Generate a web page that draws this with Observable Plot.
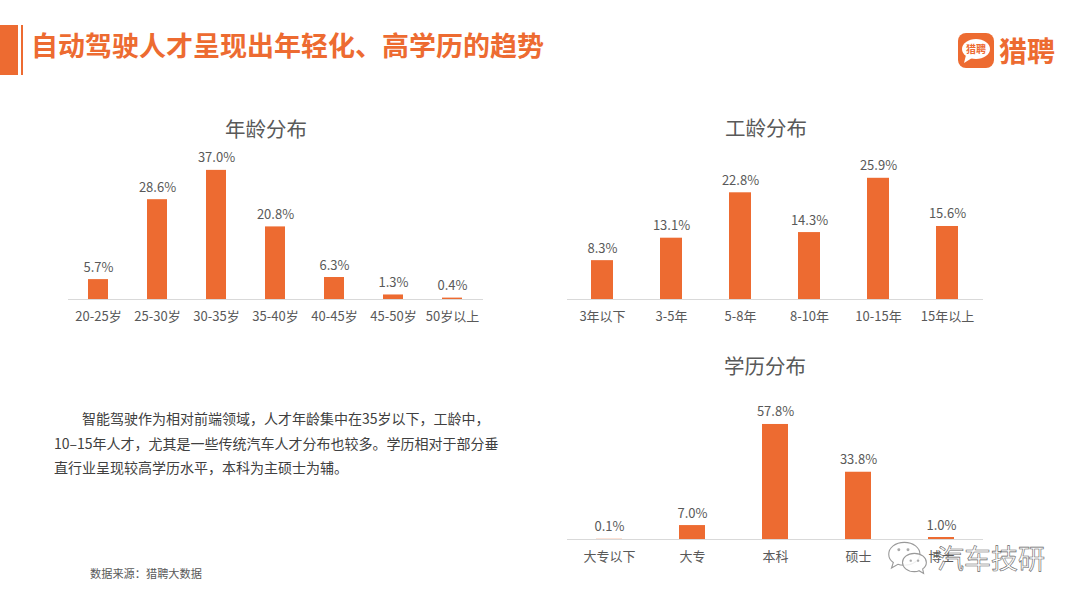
<!DOCTYPE html>
<html>
<head>
<meta charset="utf-8">
<script src="https://cdn.jsdelivr.net/npm/d3@7"></script>
<script src="https://cdn.jsdelivr.net/npm/@observablehq/plot@0.6"></script>
<style>
  html, body { margin: 0; padding: 0; background: #fff; }
  #page { position: relative; width: 1080px; height: 608px; overflow: hidden; background: #fff;
          font-family: "Noto Sans CJK SC", "Noto Sans", sans-serif; }
  .abs { position: absolute; }
  .ctitle { position: absolute; font-size: 20.5px; color: #595959; line-height: 1; transform: translate(-50%, -50%); white-space: nowrap; }
</style>
</head>
<body>
<div id="page">
  <div class="abs" style="left:0;top:25px;width:18px;height:50px;background:#ED6B31"></div>
  <div class="abs" style="left:21px;top:25px;width:2px;height:50px;background:#ED6B31"></div>
  <div class="abs" style="left:31px;top:31px;font-size:27px;line-height:27px;font-weight:600;color:#ED6B31;white-space:nowrap">自动驾驶人才呈现出年轻化、高学历的趋势</div>

  <svg class="abs" style="left:958px;top:33px" width="36" height="35" viewBox="0 0 36 35">
    <rect x="0" y="0" width="36" height="35" rx="8" fill="#ED6B31"/>
    <ellipse cx="18" cy="16" rx="14" ry="10" fill="#fff"/>
    <path d="M8 22 L6 30 L14 25 Z" fill="#fff"/>
    <text x="18" y="19.5" text-anchor="middle" font-size="10" font-weight="bold" fill="#ED6B31" font-family="Noto Sans CJK SC">猎聘</text>
  </svg>
  <div class="abs" style="left:999px;top:36px;font-size:28px;line-height:28px;font-weight:bold;color:#ED6B31;white-space:nowrap">猎聘</div>

  <div class="ctitle" style="left:266px;top:128px">年龄分布</div>
  <div class="ctitle" style="left:766px;top:127px">工龄分布</div>
  <div class="ctitle" style="left:765px;top:365px">学历分布</div>

  <div id="age" class="abs" style="left:40px;top:140px"></div>
  <div id="work" class="abs" style="left:540px;top:140px"></div>
  <div id="edu" class="abs" style="left:540px;top:380px"></div>

  <div class="abs" style="left:54px;top:406px;width:460px;font-size:14px;line-height:24.5px;color:#404040;white-space:nowrap">
    <div style="text-indent:28px">智能驾驶作为相对前端领域，人才年龄集中在35岁以下，工龄中，</div>
    <div>10–15年人才，尤其是一些传统汽车人才分布也较多。学历相对于部分垂</div>
    <div>直行业呈现较高学历水平，本科为主硕士为辅。</div>
  </div>
  <div class="abs" style="left:90px;top:566px;font-size:11.2px;line-height:14px;color:#595959;white-space:nowrap">数据来源：猎聘大数据</div>
</div>
<script>
const ageCats = ["20-25岁", "25-30岁", "30-35岁", "35-40岁", "40-45岁", "45-50岁", "50岁以上"];
const ageVals = [5.7, 28.6, 37.0, 20.8, 6.3, 1.3, 0.4];

const workCats = ["3年以下", "3-5年", "5-8年", "8-10年", "10-15年", "15年以上"];
const workVals = [8.3, 13.1, 22.8, 14.3, 25.9, 15.6];

const eduCats = ["大专以下", "大专", "本科", "硕士", "博士"];
const eduVals = [0.1, 7.0, 57.8, 33.8, 1.0];

const BAR = "#ED6B31";
const TXT = "#595959";

function chart(cats, vals, opts) {
  const data = cats.map((c, i) => ({cat: c, val: vals[i]}));
  return Plot.plot({
    width: 470,
    height: 200,
    marginLeft: opts.ml,
    marginRight: opts.mr,
    marginTop: opts.mt,
    marginBottom: 41,
    style: {fontFamily: '"Noto Sans CJK SC", "Noto Sans", sans-serif', fontSize: "13px", color: TXT, background: "transparent", overflow: "visible"},
    x: {domain: cats, paddingInner: opts.pad, paddingOuter: opts.pad / 2, tickSize: 0, tickPadding: 12, label: null},
    y: {domain: [0, opts.ymax], axis: null},
    marks: [
      Plot.barY(data, {x: "cat", y: "val", fill: BAR}),
      Plot.ruleY([0], {stroke: "#d9d9d9", strokeWidth: 1.2}),
      Plot.text(data, {x: "cat", y: "val", text: d => d.val.toFixed(1) + "%", lineAnchor: "bottom", dy: -8, fill: TXT, fontSize: 13})
    ]
  });
}

document.getElementById("age").appendChild(chart(ageCats, ageVals, {ml: 28, mr: 27, mt: 19.4, ymax: 40, pad: 0.66}));
document.getElementById("work").appendChild(chart(workCats, workVals, {ml: 27, mr: 27, mt: 18.6, ymax: 30, pad: 0.68}));
document.getElementById("edu").appendChild(chart(eduCats, eduVals, {ml: 27, mr: 27, mt: 19.7, ymax: 70, pad: 0.69}));

// watermark (icon + text) drawn over the chart
const page = document.getElementById("page");
const icon = document.createElementNS("http://www.w3.org/2000/svg", "svg");
icon.setAttribute("class", "abs");
icon.setAttribute("width", "44");
icon.setAttribute("height", "36");
icon.setAttribute("viewBox", "0 0 48 38");
icon.style.cssText = "left:886px;top:539px;";
icon.innerHTML = `
  <path d="M20 3 C10 3 3 9 3 16 C3 20 5 23 8 25 L6 31 L13 27 C15 28 17 28 20 28 C30 28 37 22 37 16 C37 9 30 3 20 3 Z" fill="rgba(255,255,255,0.85)" stroke="#999" stroke-width="1.2"/>
  <path d="M31 15 C23 15 18 20 18 25 C18 30 23 35 31 35 C33 35 34 35 36 34 L41 37 L40 32 C43 30 44 28 44 25 C44 20 39 15 31 15 Z" fill="rgba(255,255,255,0.85)" stroke="#999" stroke-width="1.2"/>
  <circle cx="14" cy="11" r="1.6" fill="#aaa"/>
  <circle cx="24" cy="11" r="1.6" fill="#aaa"/>
  <circle cx="27" cy="23" r="1.3" fill="#aaa"/>
  <circle cx="35" cy="23" r="1.3" fill="#aaa"/>`;
page.appendChild(icon);

const wm = document.createElement("div");
wm.className = "abs";
wm.style.cssText = "left:937px;top:544px;font-size:27px;line-height:28px;color:#fff;-webkit-text-stroke:0.6px #666;white-space:nowrap;";
wm.textContent = "汽车技研";
page.appendChild(wm);
</script>
</body>
</html>
